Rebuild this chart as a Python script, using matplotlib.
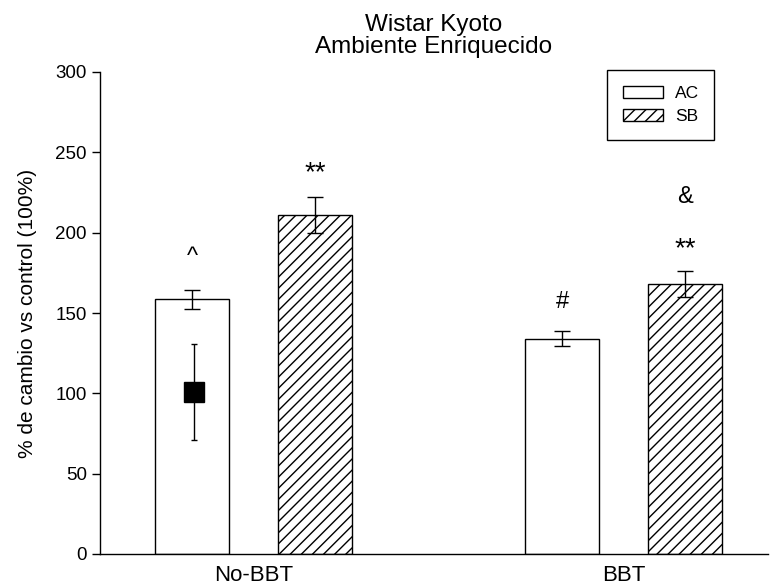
import matplotlib
matplotlib.use("Agg")
import matplotlib.pyplot as plt
import numpy as np

plt.rcParams["font.family"] = ["Liberation Sans", "DejaVu Sans"]
plt.rcParams["hatch.linewidth"] = 1.0

# datos
groups = ["No-BBT", "BBT"]
series = ["AC", "SB"]
ac_mean = [158.5, 134.0]
ac_err = [6.0, 4.7]
sb_mean = [211.0, 168.0]
sb_err = [11.0, 8.2]
control_mean = 101.0
control_err = 30.0

# marcas de significancia: (grupo, serie, texto, altura)
marks = [
    (0, "AC", "^", 185),
    (0, "SB", "**", 237),
    (1, "AC", "#", 157),
    (1, "SB", "**", 190),
    (1, "SB", "&", 222),
]
mark_size = {"^": 17, "**": 20, "#": 17, "&": 17}

x = np.arange(1, len(groups) + 1)
offset = 0.166
width = 0.2

fig = plt.figure(figsize=(7.71, 5.87), dpi=100)
ax = fig.add_axes([100 / 771, 33 / 587, 668 / 771, 482 / 587])

ax.bar(x - offset, ac_mean, width, color="white", edgecolor="black",
       linewidth=1.0, label="AC", zorder=2)
ax.bar(x + offset, sb_mean, width, color="white", edgecolor="black",
       linewidth=1.0, hatch="///", label="SB", zorder=2)
ax.errorbar(x - offset, ac_mean, yerr=ac_err, fmt="none", ecolor="black",
            elinewidth=1.0, capsize=5.5, capthick=1.0, zorder=3)
ax.errorbar(x + offset, sb_mean, yerr=sb_err, fmt="none", ecolor="black",
            elinewidth=1.0, capsize=5.5, capthick=1.0, zorder=3)

# control (100%)
ax.errorbar([x[0] - offset + 0.006], [control_mean], yerr=[control_err],
            fmt="s", color="black", markersize=15, elinewidth=1.0,
            capsize=2.5, capthick=1.0, zorder=4)

pos = {"AC": -offset, "SB": offset}
for g, s, txt, y in marks:
    ax.text(x[g] + pos[s], y, txt, ha="center", va="center",
            fontsize=mark_size[txt])

ax.set_xlim(0.585, 2.39)
ax.set_ylim(0, 300)
ax.set_yticks(np.arange(0, 301, 50))
ax.set_xticks(x)
ax.set_xticklabels(groups, fontsize=16)
ax.tick_params(axis="x", length=0, pad=8)
ax.tick_params(axis="y", labelsize=13.5, length=6, width=1.0, direction="out")
ax.spines["top"].set_visible(False)
ax.spines["right"].set_visible(False)
ax.spines["left"].set_linewidth(1.0)
ax.spines["bottom"].set_linewidth(1.0)
ax.set_ylabel("% de cambio vs control (100%)", fontsize=15, labelpad=13)
ax.set_title("Wistar Kyoto\nAmbiente Enriquecido", fontsize=17.5,
             linespacing=0.95, pad=14)

leg = ax.legend(loc="upper left", bbox_to_anchor=(0.759, 1.004),
                fancybox=False, edgecolor="black", framealpha=1,
                fontsize=12.5, handlelength=2.3, handleheight=0.68,
                handletextpad=0.7, borderpad=0.9, labelspacing=0.5,
                borderaxespad=0)
leg.get_frame().set_linewidth(1.0)

fig.savefig("out.png", dpi=100)
